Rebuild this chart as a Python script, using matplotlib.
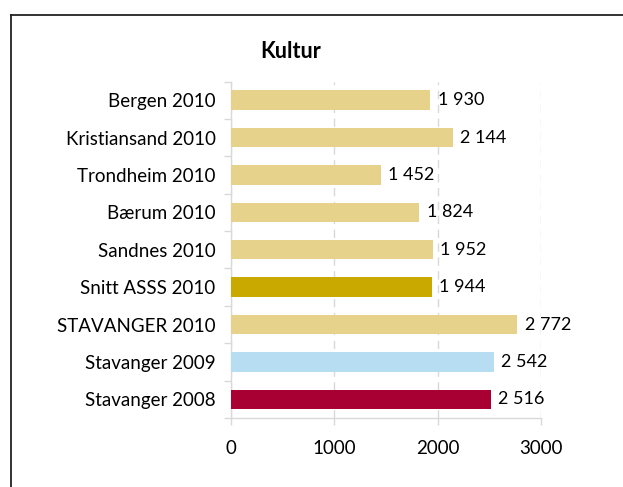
import matplotlib.pyplot as plt
from matplotlib.lines import Line2D

labels = ["Bergen 2010", "Kristiansand 2010", "Trondheim 2010", "Bærum 2010",
          "Sandnes 2010", "Snitt ASSS 2010", "STAVANGER 2010",
          "Stavanger 2009", "Stavanger 2008"]
values = [1930, 2144, 1452, 1824, 1952, 1944, 2772, 2542, 2516]
colors = ["#E6D28A", "#E6D28A", "#E6D28A", "#E6D28A", "#E6D28A",
          "#C9A800", "#E6D28A", "#B7DDF3", "#A90034"]
xticks = [0, 1000, 2000, 3000]

plt.rcParams["font.family"] = ["Lato", "DejaVu Sans"]

fig = plt.figure(figsize=(6.23, 4.87), dpi=100)
ax = fig.add_axes([0.3708, 0.1417, 0.4976, 0.6909])

y = list(range(len(labels)))
ax.barh(y, values, height=0.52, color=colors, zorder=3)
ax.set_ylim(len(labels) - 0.5, -0.5)
ax.set_xlim(0, 3000)

for yi, v in zip(y, values):
    ax.text(v + 70, yi, f"{v:,}".replace(",", " "), va="center", ha="left",
            fontsize=13, color="#000000")

ax.set_yticks(y)
ax.set_yticklabels(labels, fontsize=13.5)
ax.set_yticks([i - 0.5 for i in range(len(labels) + 1)], minor=True)
ax.tick_params(axis="y", which="major", length=0, pad=11)
ax.tick_params(axis="y", which="minor", length=5, color="#d9d9d9", width=1)
ax.set_xticks(xticks)
ax.set_xticklabels([str(t) for t in xticks], fontsize=13.5)
ax.tick_params(axis="x", length=5, color="#d9d9d9", width=1, pad=11)

ax.grid(axis="x", color="#d9d9d9", linestyle=(0, (6, 4)), linewidth=1, zorder=0)
for s in ["top", "right"]:
    ax.spines[s].set_visible(False)
for s in ["left", "bottom"]:
    ax.spines[s].set_color("#d9d9d9")
    ax.spines[s].set_linewidth(1)

fig.text(0.467, 0.895, "Kultur", ha="center", va="center",
         fontsize=15.5, fontweight="bold")

# outer frame: top and left edges
fig.add_artist(Line2D([11 / 623, 1.0], [1 - 15 / 487, 1 - 15 / 487],
                      color="#222222", linewidth=1.3, transform=fig.transFigure))
fig.add_artist(Line2D([11 / 623, 11 / 623], [0, 1 - 15 / 487],
                      color="#222222", linewidth=1.3, transform=fig.transFigure))

fig.savefig("out.png", dpi=100)
